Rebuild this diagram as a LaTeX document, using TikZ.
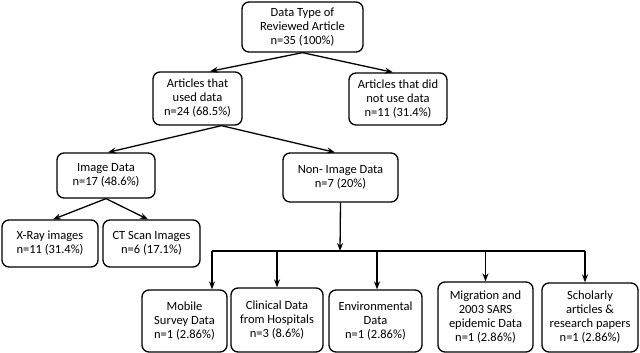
\documentclass[tikz,border=0pt]{standalone}
\usepackage{fontspec}
\setmainfont{Carlito}
\usetikzlibrary{arrows.meta}

\begin{document}
\begin{tikzpicture}[x=1pt,y=-1pt,line width=1.3pt,
  box/.style={draw,rounded corners=7pt,align=center,inner sep=1pt,
    font=\fontsize{12.5}{14}\selectfont},
  link/.style={-{Stealth[length=8pt,width=6pt]}}]
 \useasboundingbox (0,0) rectangle (640,353);
 % first two levels
 \node[box,minimum width=121pt,minimum height=50pt] (top) at (302.5,27)
   {Data Type of\\Reviewed Article\\n=35 (100\%)};
 \node[box,minimum width=89pt,minimum height=53pt] (used) at (197.5,98.5)
   {Articles that\\used data\\n=24 (68.5\%)};
 \node[box,minimum width=98pt,minimum height=52pt] (notused) at (398,99)
   {Articles that did\\not use data\\n=11 (31.4\%)};
 \node[box,minimum width=98pt,minimum height=45pt] (image) at (106,175.5)
   {Image Data\\n=17 (48.6\%)};
 \node[box,minimum width=115pt,minimum height=49pt] (nonimage) at (340.5,177.5)
   {Non- Image Data\\n=7 (20\%)};
 \node[box,minimum width=96pt,minimum height=47pt] (xray) at (50,243.5)
   {X-Ray images\\n=11 (31.4\%)};
 \node[box,minimum width=97pt,minimum height=47pt] (ct) at (151.5,243.5)
   {CT Scan Images\\n=6 (17.1\%)};
 % bottom row, all sitting on the lower edge
 \node[box,minimum width=85pt,minimum height=62pt] (mobile) at (184.5,321)
   {Mobile\\Survey Data\\n=1 (2.86\%)};
 \node[box,minimum width=92pt,minimum height=64pt] (clinical) at (277,320)
   {Clinical Data\\from Hospitals\\n=3 (8.6\%)};
 \node[box,minimum width=93pt,minimum height=62pt] (env) at (375.5,321)
   {Environmental\\Data\\n=1 (2.86\%)};
 \node[box,minimum width=95pt,minimum height=70pt] (migr) at (485.5,317)
   {Migration and\\2003 SARS\\epidemic Data\\n=1 (2.86\%)};
 \node[box,minimum width=96pt,minimum height=69pt] (schol) at (590,317.5)
   {Scholarly\\articles \&\\research papers\\n=1 (2.86\%)};
 % connectors
 \draw[link] (top.south) -- ([xshift=12.5pt]used.north);
 \draw[link] (top.south) -- ([xshift=-5pt]notused.north);
 \draw[link] ([xshift=24pt]used.south) -- ([xshift=2pt]image.north);
 \draw[link] ([xshift=24pt]used.south) -- ([xshift=-5.5pt]nonimage.north);
 \draw[link] (image.south) -- ([xshift=3pt]xray.north);
 \draw[link] (image.south) -- ([xshift=-3.5pt]ct.north);
 \coordinate (bus) at (340,251);
 \coordinate (busL) at (212,251);
 \coordinate (busR) at (585,251);
 \draw[link] (nonimage.south) -- (bus);
 \draw (busL) -- (busR);
 \draw[link] (busL) -- (busL |- mobile.north);
 \draw[link] (clinical.north |- bus) -- (clinical.north);
 \draw[link] ([xshift=1.5pt]env.north |- bus) -- ([xshift=1.5pt]env.north);
 \draw[link] (migr.north |- bus) -- (migr.north);
 \draw[link] (busR) -- (busR |- schol.north);
\end{tikzpicture}
\end{document}
